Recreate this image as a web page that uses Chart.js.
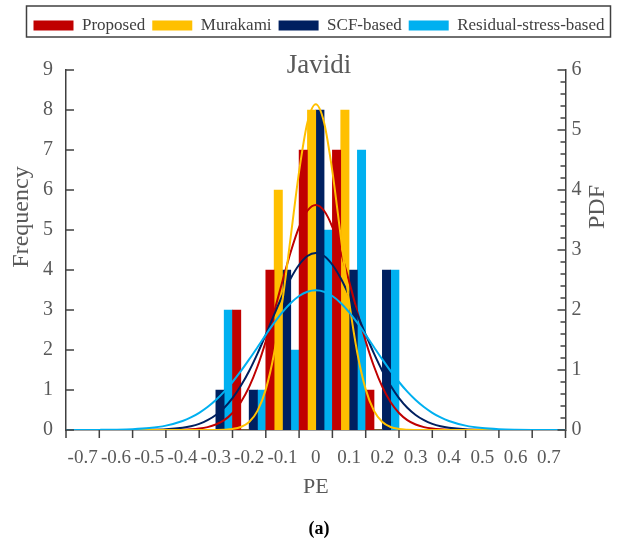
<!DOCTYPE html>
<html>
<head>
<meta charset="utf-8">
<script src="https://cdn.jsdelivr.net/npm/chart.js@4.4.0/dist/chart.umd.min.js"></script>
<style>
body { margin: 0; background: #fff; }
#wrap { width: 621px; height: 549px; }
</style>
</head>
<body>
<div id="wrap"><canvas id="histChart"></canvas></div>
<script>
// histogram bins (PE)
var peLabels = ["-0.7", "-0.6", "-0.5", "-0.4", "-0.3", "-0.2", "-0.1", "0", "0.1", "0.2", "0.3", "0.4", "0.5", "0.6", "0.7"];
var proposed = [0, 0, 0, 0, 0, 3, 4, 7, 7, 1, 0, 0, 0, 0, 0];
var murakami = [0, 0, 0, 0, 0, 0, 6, 8, 8, 0, 0, 0, 0, 0, 0];
var scfBased = [0, 0, 0, 0, 1, 1, 4, 8, 4, 4, 0, 0, 0, 0, 0];
var residual = [0, 0, 0, 0, 3, 1, 2, 5, 7, 4, 0, 0, 0, 0, 0];

// fitted PDF curves
var pdfX = [-0.75, -0.7, -0.65, -0.6, -0.55, -0.5, -0.45,
  -0.4, -0.375, -0.35, -0.325, -0.3, -0.275, -0.25, -0.225, -0.2, -0.175, -0.15, -0.125, -0.1, -0.075, -0.05, -0.025,
  0,
  0.025, 0.05, 0.075, 0.1, 0.125, 0.15, 0.175, 0.2, 0.225, 0.25, 0.275, 0.3, 0.325, 0.35, 0.375, 0.4,
  0.45, 0.5, 0.55, 0.6, 0.65, 0.7, 0.75];
var pdfProposed = [0, 0, 0, 0, 0, 0, 0.001,
  0.005, 0.011, 0.024, 0.048, 0.091, 0.165, 0.284, 0.463, 0.718, 1.058, 1.480, 1.966, 2.481, 2.972, 3.382, 3.654,
  3.75,
  3.654, 3.382, 2.972, 2.481, 1.966, 1.480, 1.058, 0.718, 0.463, 0.284, 0.165, 0.091, 0.048, 0.024, 0.011, 0.005,
  0.001, 0, 0, 0, 0, 0, 0];
var pdfMurakami = [0, 0, 0, 0, 0, 0, 0,
  0, 0, 0, 0, 0.001, 0.005, 0.017, 0.050, 0.134, 0.319, 0.677, 1.279, 2.152, 3.227, 4.308, 5.125,
  5.43,
  5.125, 4.308, 3.227, 2.152, 1.279, 0.677, 0.319, 0.134, 0.050, 0.017, 0.005, 0.001, 0, 0, 0, 0,
  0, 0, 0, 0, 0, 0, 0];
var pdfScf = [0, 0, 0, 0, 0.001, 0.003, 0.011,
  0.037, 0.062, 0.102, 0.163, 0.250, 0.370, 0.531, 0.736, 0.984, 1.273, 1.591, 1.922, 2.242, 2.528, 2.754, 2.900,
  2.95,
  2.900, 2.754, 2.528, 2.242, 1.922, 1.591, 1.273, 0.984, 0.736, 0.531, 0.370, 0.250, 0.163, 0.102, 0.062, 0.037,
  0.011, 0.003, 0.001, 0, 0, 0, 0];
var pdfResidual = [0, 0.001, 0.002, 0.005, 0.013, 0.032, 0.073,
  0.151, 0.210, 0.287, 0.383, 0.500, 0.639, 0.800, 0.980, 1.176, 1.380, 1.586, 1.784, 1.964, 2.116, 2.233, 2.305,
  2.33,
  2.305, 2.233, 2.116, 1.964, 1.784, 1.586, 1.380, 1.176, 0.980, 0.800, 0.639, 0.500, 0.383, 0.287, 0.210, 0.151,
  0.073, 0.032, 0.013, 0.005, 0.002, 0.001, 0];

var seriesNames = ["Proposed", "Murakami", "SCF-based", "Residual-stress-based"];
var seriesColors = ["#C00000", "#FFC000", "#002060", "#00B0F0"];
var lineOrder = [4, 2, 3, 1];

var serif = "'Liberation Serif', 'Times New Roman', serif";
var grey = "#595959";
var axisCol = "#404040";
Chart.defaults.font.family = serif;

var binCentres = peLabels.map(Number);

// bars and curves share one linear x axis, so the bar groups fill the whole bin
var barSets = [proposed, murakami, scfBased, residual].map(function (d, i) {
  return {
    label: seriesNames[i],
    data: binCentres.map(function (x, k) { return { x: x, y: d[k] }; }),
    backgroundColor: seriesColors[i],
    borderWidth: 0,
    categoryPercentage: 1,
    barPercentage: 1,
    xAxisID: "x",
    yAxisID: "y",
    order: 10
  };
});
var lineSets = [pdfProposed, pdfMurakami, pdfScf, pdfResidual].map(function (d, i) {
  return {
    type: "line",
    label: seriesNames[i] + " PDF",
    data: pdfX.map(function (x, k) { return { x: x, y: d[k] }; }),
    borderColor: seriesColors[i],
    borderWidth: 2,
    pointRadius: 0,
    fill: false,
    cubicInterpolationMode: "monotone",
    xAxisID: "x",
    yAxisID: "y2",
    order: lineOrder[i]
  };
});

// border round the legend
var legendBox = {
  id: "legendBox",
  afterDraw: function (chart) {
    var hb = chart.legend.legendHitBoxes;
    if (!hb || !hb.length) return;
    var last = hb[hb.length - 1];
    var ctx = chart.ctx;
    ctx.save();
    ctx.strokeStyle = "#404040";
    ctx.lineWidth = 1.5;
    ctx.strokeRect(hb[0].left - 7, hb[0].top - 11, last.left + last.width + 13 - hb[0].left, hb[0].height + 14);
    ctx.restore();
  }
};

// tick marks (inside on value axes, at bin edges under the PE axis) and rotated axis titles
var axisExtras = {
  id: "axisExtras",
  afterDraw: function (chart) {
    var ctx = chart.ctx, a = chart.chartArea, x = chart.scales.x, y = chart.scales.y, y2 = chart.scales.y2;
    ctx.save();
    ctx.strokeStyle = axisCol;
    ctx.lineWidth = 1.5;
    ctx.beginPath();
    y.ticks.forEach(function (t) {
      var p = y.getPixelForValue(t.value);
      ctx.moveTo(a.left, p); ctx.lineTo(a.left + 8, p);
    });
    for (var k = 0; k <= 30; k++) {
      var p = y2.getPixelForValue(k * 0.2);
      ctx.moveTo(a.right, p); ctx.lineTo(a.right - (k % 5 === 0 ? 8 : 5), p);
    }
    for (var j = 0; j <= peLabels.length; j++) {
      var px = x.getPixelForValue(x.min + j * 0.1);
      ctx.moveTo(px, a.bottom); ctx.lineTo(px, a.bottom + 8);
    }
    ctx.stroke();

    ctx.fillStyle = grey;
    ctx.font = "24px " + serif;
    ctx.textAlign = "center";
    ctx.textBaseline = "middle";
    ctx.translate(22, 217);
    ctx.rotate(-Math.PI / 2);
    ctx.fillText("Frequency", 0, 0);
    ctx.setTransform(1, 0, 0, 1, 0, 0);
    ctx.translate(598, 207);
    ctx.rotate(-Math.PI / 2);
    ctx.fillText("PDF", 0, 0);
    ctx.restore();
  }
};

var ctxH = document.getElementById("histChart").getContext("2d");
var histChart = new Chart(ctxH, {
  type: "bar",
  data: {
    datasets: barSets.concat(lineSets)
  },
  options: {
    indexAxis: "x",
    responsive: true,
    maintainAspectRatio: false,
    animation: false,
    layout: { padding: { left: 17, top: 10, right: 0, bottom: 0 } },
    plugins: {
      tooltip: { enabled: false },
      legend: {
        position: "top",
        labels: {
          boxWidth: 40,
          boxHeight: 10,
          padding: 7,
          color: axisCol,
          font: { size: 17, family: serif },
          filter: function (item) { return item.datasetIndex < 4; }
        }
      },
      title: {
        display: true,
        text: "Javidi",
        weight: 500,
        color: grey,
        font: { size: 27, weight: "normal", family: serif },
        padding: { top: 5.8, bottom: -12.2 }
      },
      subtitle: {
        display: true,
        text: "(a)",
        position: "bottom",
        color: "#000",
        font: { size: 18, weight: "bold", family: serif },
        padding: { top: 18.2, bottom: 9.2 }
      }
    },
    scales: {
      x: {
        type: "linear",
        min: -0.75,
        max: 0.75,
        offset: false,
        grid: { display: false, drawTicks: false, tickLength: 0, offset: false },
        border: { color: axisCol, width: 1.5 },
        afterBuildTicks: function (s) {
          s.ticks = binCentres.map(function (v) { return { value: v }; });
        },
        ticks: {
          color: grey,
          font: { size: 19 },
          padding: 17,
          maxRotation: 0,
          autoSkip: false,
          callback: function (v, i) { return peLabels[i]; }
        },
        title: { display: true, text: "PE", color: grey, font: { size: 22 }, padding: { top: 0, bottom: 0 } },
        afterFit: function (s) { s.height = 70; }
      },
      y: {
        position: "left",
        min: 0, max: 9,
        grid: { display: false, drawTicks: false, tickLength: 0 },
        border: { color: axisCol, width: 1.5 },
        ticks: { stepSize: 1, color: grey, font: { size: 20 }, padding: 13 },
        afterFit: function (s) { s.width = 49; }
      },
      y2: {
        position: "right",
        min: 0, max: 6,
        grid: { display: false, drawTicks: false, tickLength: 0 },
        border: { color: axisCol, width: 1.5 },
        ticks: { stepSize: 1, color: grey, font: { size: 20 }, padding: 6 },
        afterFit: function (s) { s.width = 55.5; }
      }
    }
  },
  plugins: [legendBox, axisExtras]
});
</script>
</body>
</html>
